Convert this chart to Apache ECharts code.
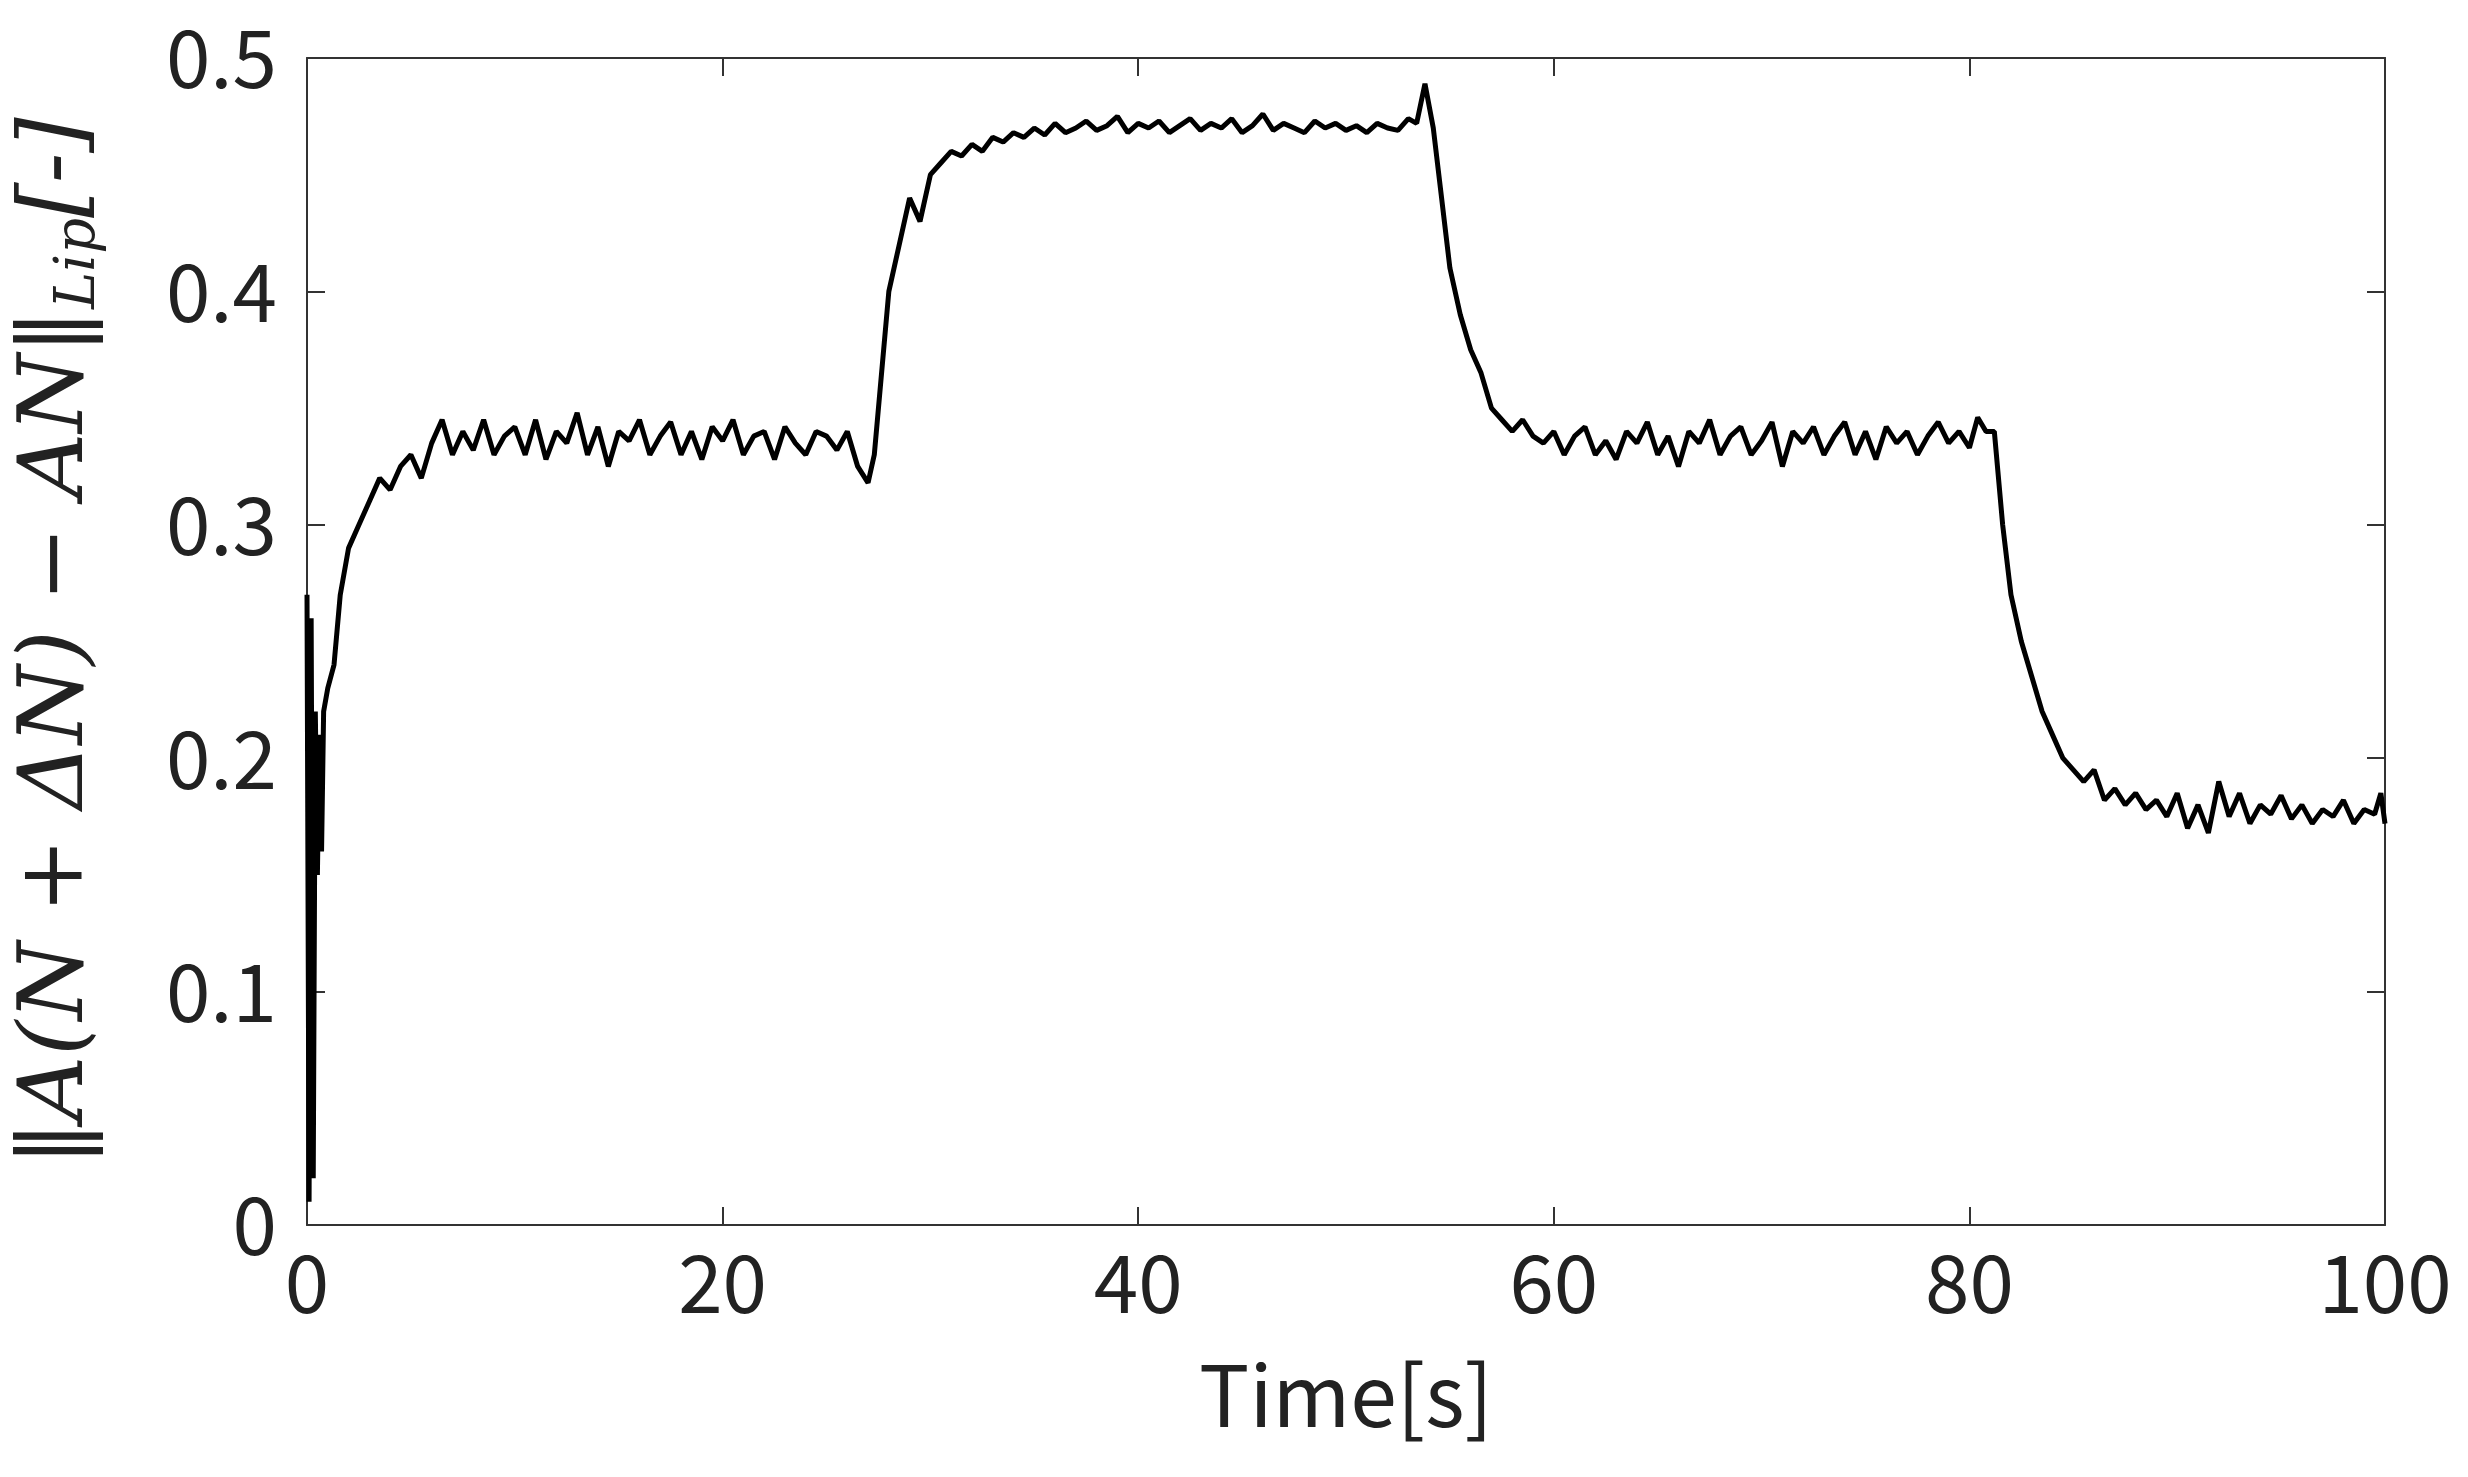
<!DOCTYPE html>
<html><head><meta charset="utf-8">
<script src="https://cdn.jsdelivr.net/npm/echarts@6/dist/echarts.min.js"></script>
<style>html,body{margin:0;padding:0;background:#fff}#c{width:2468px;height:1477px}</style>
</head><body><div id="c"></div>
<script>
const times = [0,0.1,0.2,0.3,0.4,0.5,0.6,0.7,0.8,1.0,1.3,1.6,2,2.5,3,3.5,4,4.5,5,5.5,6,6.5,7,7.5,8,8.5,9,9.5,10,10.5,11,11.5,12,12.5,13,13.5,14,14.5,15,15.5,16,16.5,17,17.5,18,18.5,19,19.5,20,20.5,21,21.5,22,22.5,23,23.5,24,24.5,25,25.5,26,26.5,27,27.3,27.6,28,28.5,29,29.5,30,30.5,31,31.5,32,32.5,33,33.5,34,34.5,35,35.5,36,36.5,37,37.5,38,38.5,39,39.5,40,40.5,41,41.5,42,42.5,43,43.5,44,44.5,45,45.5,46,46.5,47,47.5,48,48.5,49,49.5,50,50.5,51,51.5,52,52.5,53,53.4,53.8,54.2,54.6,55,55.5,56,56.5,57,57.5,58,58.5,59,59.5,60,60.5,61,61.5,62,62.5,63,63.5,64,64.5,65,65.5,66,66.5,67,67.5,68,68.5,69,69.5,70,70.5,71,71.5,72,72.5,73,73.5,74,74.5,75,75.5,76,76.5,77,77.5,78,78.5,79,79.5,80,80.4,80.8,81.2,81.6,82,82.5,83,83.5,84,84.5,85,85.5,86,86.5,87,87.5,88,88.5,89,89.5,90,90.5,91,91.5,92,92.5,93,93.5,94,94.5,95,95.5,96,96.5,97,97.5,98,98.5,99,99.5,99.8,100];
const values = [0.27,0.01,0.26,0.02,0.22,0.15,0.21,0.16,0.22,0.23,0.24,0.27,0.29,0.30,0.31,0.32,0.315,0.325,0.33,0.32,0.335,0.345,0.33,0.34,0.332,0.345,0.33,0.338,0.342,0.33,0.345,0.328,0.34,0.335,0.348,0.33,0.342,0.325,0.34,0.336,0.345,0.33,0.338,0.344,0.33,0.34,0.328,0.342,0.336,0.345,0.33,0.338,0.34,0.328,0.342,0.335,0.33,0.34,0.338,0.332,0.34,0.325,0.318,0.33,0.36,0.40,0.42,0.44,0.43,0.45,0.455,0.46,0.458,0.463,0.46,0.466,0.464,0.468,0.466,0.47,0.467,0.472,0.468,0.47,0.473,0.469,0.471,0.475,0.468,0.472,0.47,0.473,0.468,0.471,0.474,0.469,0.472,0.47,0.474,0.468,0.471,0.476,0.469,0.472,0.47,0.468,0.473,0.47,0.472,0.469,0.471,0.468,0.472,0.47,0.469,0.474,0.472,0.489,0.47,0.44,0.41,0.39,0.375,0.365,0.35,0.345,0.34,0.345,0.338,0.335,0.34,0.33,0.338,0.342,0.33,0.336,0.328,0.34,0.335,0.344,0.33,0.338,0.325,0.34,0.335,0.345,0.33,0.338,0.342,0.33,0.336,0.344,0.325,0.34,0.335,0.342,0.33,0.338,0.344,0.33,0.34,0.328,0.342,0.335,0.34,0.33,0.338,0.344,0.335,0.34,0.333,0.346,0.34,0.34,0.30,0.27,0.25,0.235,0.22,0.21,0.20,0.195,0.19,0.195,0.182,0.187,0.18,0.185,0.178,0.182,0.175,0.185,0.17,0.18,0.168,0.19,0.175,0.185,0.172,0.18,0.176,0.184,0.174,0.18,0.172,0.178,0.175,0.182,0.172,0.178,0.176,0.185,0.172,0.175,0.065];
const xTicks = [0,20,40,60,80,100];
const yTicks = [0,0.1,0.2,0.3,0.4,0.5];
const data = times.map((t,i)=>[t,values[i]]);
const font = '"Noto Sans CJK JP","Noto Sans",sans-serif';
const axBase = {axisLine:{show:true,onZero:false,lineStyle:{color:'#333',width:2}},axisTick:{show:true,inside:true,length:18,lineStyle:{color:'#333',width:2}},splitLine:{show:false}};
const chart = echarts.init(document.getElementById('c'));
chart.setOption({
  animation:false,
  grid:{left:307,right:83,top:58,bottom:252,containLabel:false,outerBoundsMode:'none'},
  xAxis:[
    Object.assign({type:'value',min:0,max:100,interval:20,position:'bottom',
      axisLabel:{fontSize:80,color:'#222',fontFamily:font,margin:18},
      name:'Time[s]',nameLocation:'middle',nameGap:128,nameTextStyle:{fontSize:84,color:'#222',fontFamily:font}},axBase),
    Object.assign({type:'value',min:0,max:100,interval:20,position:'top',axisLabel:{show:false}},axBase)
  ],
  yAxis:[
    Object.assign({type:'value',min:0,max:0.5,interval:0.1,position:'left',
      axisLabel:{fontSize:80,color:'#222',fontFamily:font,margin:30,formatter:v=>v===0?'0':v.toFixed(1)},
      name:'{m|‖A(N + ΔN) − AN‖}{s|Lip}{m|[-]}',nameLocation:'middle',nameGap:200,
      nameTextStyle:{rich:{m:{fontSize:90,fontFamily:'"DejaVu Serif",serif',fontStyle:'italic',color:'#222'},s:{fontSize:56,fontFamily:'"DejaVu Serif",serif',fontStyle:'italic',color:'#222',verticalAlign:'bottom',padding:[40,0,0,0]}}}},axBase),
    Object.assign({type:'value',min:0,max:0.5,interval:0.1,position:'right',axisLabel:{show:false}},axBase)
  ],
  series:[{type:'line',data:data,showSymbol:false,lineStyle:{color:'#000',width:5}}]
});
</script></body></html>
